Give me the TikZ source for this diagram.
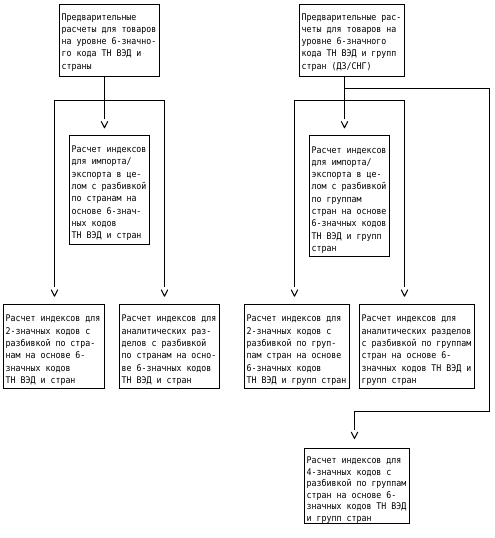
\documentclass[tikz,border=0pt]{standalone}
\usepackage{fontspec}
\newfontfamily\cadfont[FakeStretch=0.9]{DejaVu Sans Mono}
\usetikzlibrary{arrows.meta}
\pgfdeclarearrow{
  name = CadV,
  setup code = {
    \pgfarrowssettipend{0pt}
    \pgfarrowssetlineend{-9pt}
    \pgfarrowssetvisualbackend{-6.5pt}
    \pgfarrowssetbackend{-9pt}
    \pgfarrowshullpoint{0pt}{0pt}
    \pgfarrowsupperhullpoint{-6.5pt}{3.3pt}
  },
  drawing code = {
    \pgfsetdash{}{0pt}
    \pgfsetroundjoin
    \pgfpathmoveto{\pgfqpoint{-6.5pt}{3.3pt}}
    \pgfpathlineto{\pgfqpoint{0pt}{0pt}}
    \pgfpathlineto{\pgfqpoint{-6.5pt}{-3.3pt}}
    \pgfusepathqstroke
  }
}
\hfuzz=20pt
\newcommand{\cadtxt}[5][12.3pt]{\parbox[c][#3][t]{#2}{\cadfont\fontsize{9.2pt}{#1}\selectfont\raggedright\rule{0pt}{#4}#5}}
\begin{document}
\begin{tikzpicture}[x=1pt,y=-1pt,
  cbox/.style={draw, line width=1pt, inner xsep=2.2pt, inner ysep=0pt, outer sep=0pt, anchor=north west},
  conn/.style={line width=1pt}]
\useasboundingbox (0,0) rectangle (495,538);
% boxes
\node[cbox] (A) at (59.5,4.5) {\cadtxt{95.6pt}{72pt}{15.5pt}{Предварительные\\расчеты для товаров\\на уровне 6-значно-\\го кода ТН ВЭД и\\страны}};
\node[cbox] (B) at (299.5,4.5) {\cadtxt{100.6pt}{72pt}{15.5pt}{Предварительные рас-\\четы для товаров на\\уровне 6-значного\\кода ТН ВЭД и групп\\стран (ДЗ/СНГ)}};
\node[cbox] (C) at (69.5,135.5) {\cadtxt{75.6pt}{109pt}{17pt}{Расчет индексов\\для импорта/\\экспорта в це-\\лом с разбивкой\\по странам на\\основе 6-знач-\\ных кодов\\ТН ВЭД и стран}};
\node[cbox] (D) at (309.5,135.5) {\cadtxt{75.6pt}{121pt}{17.5pt}{Расчет индексов\\для импорта/\\экспорта в це-\\лом с разбивкой\\по группам\\стран на основе\\6-значных кодов\\ТН ВЭД и групп\\стран}};
\node[cbox] (b1) at (3.5,304.5) {\cadtxt{96.6pt}{84pt}{17.4pt}{Расчет индексов для\\2-значных кодов с\\разбивкой по стра-\\нам на основе 6-\\значных кодов\\ТН ВЭД и стран}};
\node[cbox] (b2) at (119.5,304.5) {\cadtxt{95.6pt}{84pt}{17.4pt}{Расчет индексов для\\аналитических раз-\\делов с разбивкой\\по странам на осно-\\ве 6-значных кодов\\ТН ВЭД и стран}};
\node[cbox] (b3) at (244.5,304.5) {\cadtxt{100.6pt}{84pt}{17.4pt}{Расчет индексов для\\2-значных кодов с\\разбивкой по груп-\\пам стран на основе\\6-значных кодов\\ТН ВЭД и групп стран}};
\node[cbox] (b4) at (359.5,304.5) {\cadtxt{110.6pt}{84pt}{17.4pt}{Расчет индексов для\\аналитических разделов\\с разбивкой по группам\\стран на основе 6-\\значных кодов ТН ВЭД и\\групп стран}};
\node[cbox] (E) at (304.5,448.5) {\cadtxt[11.6pt]{100.6pt}{75pt}{15pt}{Расчет индексов для\\4-значных кодов с\\разбивкой по группам\\стран на основе 6-\\значных кодов ТН ВЭД\\и групп стран}};
% junctions and guide coordinates
\coordinate (jl) at (104.5,100.5);
\coordinate (jr) at (344.5,100.5);
\coordinate (jb) at (344.5,88.5);
\coordinate (cr) at (489.5,411.5);
\coordinate (xl1) at (54.5,0);
\coordinate (xl2) at (164.5,0);
\coordinate (xr1) at (294.5,0);
\coordinate (xr2) at (404.5,0);
\coordinate (xe) at (354.5,0);
% left connectors
\draw[conn, -CadV, shorten >=7.7pt] (A.south -| jl) -- (C.north -| jl);
\draw[conn, CadV-CadV, shorten <=8.3pt, shorten >=8.3pt] (b1.north -| xl1) |- (jl) -| (b2.north -| xl2);
% right connectors
\draw[conn, -CadV, shorten >=7.7pt] (B.south -| jr) -- (D.north -| jr);
\draw[conn, CadV-CadV, shorten <=8.3pt, shorten >=8.3pt] (b3.north -| xr1) |- (jr) -| (b4.north -| xr2);
\draw[conn, -CadV, shorten >=10pt] (jb) -| (cr) -| (E.north -| xe);
\end{tikzpicture}
\end{document}
